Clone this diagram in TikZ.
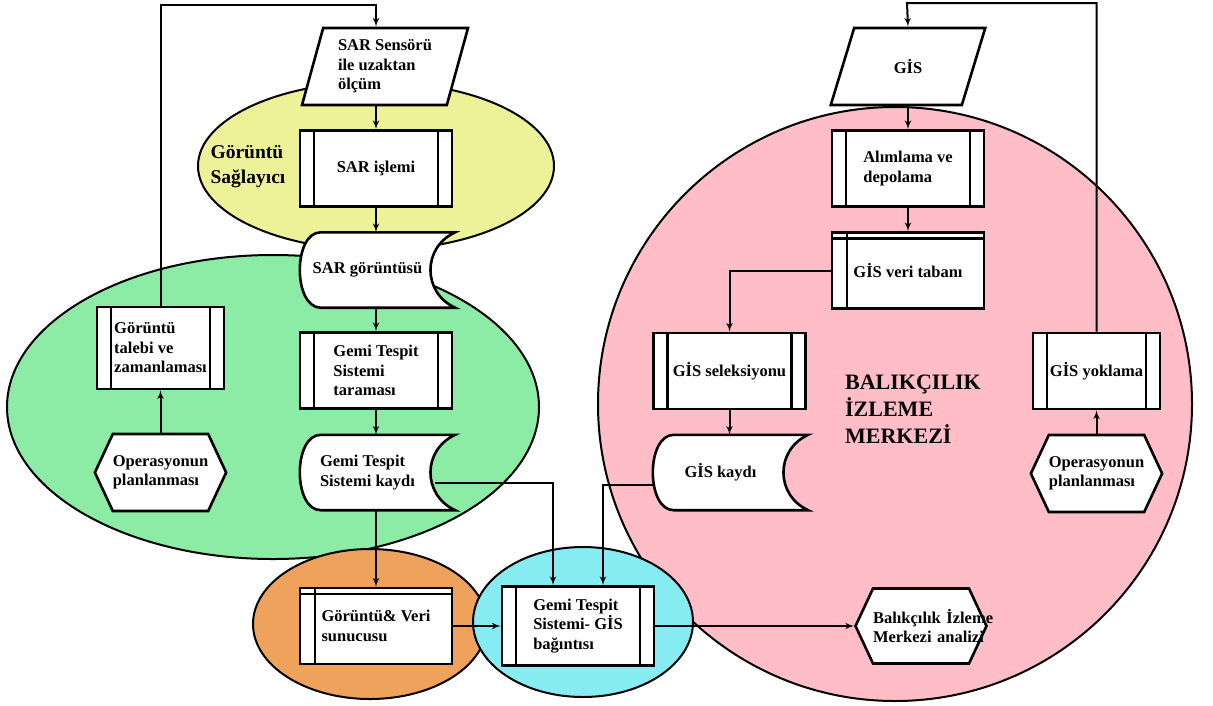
\documentclass[tikz,border=0pt]{standalone}
\usepackage{fontspec}
\setmainfont{Liberation Serif}
\usepackage{xcolor}
\usepackage{tikz}
\usetikzlibrary{shapes,arrows}

\pgfdeclarelayer{back}
\pgfdeclarelayer{shapes}
\pgfsetlayers{back,shapes,main}

\definecolor{zoneyellow}{RGB}{237,242,152}
\definecolor{zonegreen}{RGB}{140,235,165}
\definecolor{zoneorange}{RGB}{238,162,92}
\definecolor{zonecyan}{RGB}{134,236,242}
\definecolor{zonepink}{RGB}{255,189,200}

\newcommand{\boxfont}{\fontsize{16.5}{19.5}\selectfont\bfseries}

\tikzstyle{base} = [draw, line width=2.6pt, fill=white, font=\boxfont, align=left]
\tikzstyle{process} = [base, rectangle, minimum width=152, minimum height=76,
    path picture={\draw[line width=2.2pt]
      ([xshift=14pt]path picture bounding box.north west) -- ([xshift=14pt]path picture bounding box.south west)
      ([xshift=-14pt]path picture bounding box.north east) -- ([xshift=-14pt]path picture bounding box.south east);}]
\tikzstyle{storage} = [base, rectangle, minimum width=152, minimum height=76,
    path picture={\draw[line width=2.2pt]
      ([xshift=15pt]path picture bounding box.north west) -- ([xshift=15pt]path picture bounding box.south west)
      ([yshift=-6pt]path picture bounding box.north west) -- ([yshift=-6pt]path picture bounding box.north east);}]
\tikzstyle{stored} = [rectangle, minimum width=135, minimum height=75, inner sep=2pt, font=\boxfont, align=left]
\tikzstyle{prep} = [base, signal, signal to=west and east, signal pointer angle=130,
    inner xsep=0pt, minimum width=130, minimum height=77]
\tikzstyle{io} = [base, trapezium, trapezium stretches=true, minimum width=166, minimum height=77]
\tikzstyle{zone} = [draw, line width=2pt]
\tikzstyle{line} = [draw, line width=2pt, -latex']

% stored data outline, drawn under the node text
\newcommand{\storedshape}[1]{%
  \begin{pgfonlayer}{shapes}
    \draw[line width=2.6pt, fill=white] ([xshift=21pt]#1.north west) -- ([xshift=20pt]#1.north east)
      .. controls ([xshift=-13pt,yshift=-15pt]#1.north east) and ([xshift=-13pt,yshift=15pt]#1.south east) .. ([xshift=20pt]#1.south east)
      -- ([xshift=21pt]#1.south west)
      .. controls ([xshift=-7pt]#1.south west) and ([xshift=-7pt]#1.north west) .. cycle;
  \end{pgfonlayer}}

\begin{document}
\begin{tikzpicture}[x=1pt, y=-1pt, node distance=102pt]
    \useasboundingbox (0,0) rectangle (1213,705);

    % Zones
    \begin{pgfonlayer}{back}
      \draw[zone, fill=zonepink] (895,404) circle [radius=297pt];
      \draw[zone, fill=zonegreen] (273,407) ellipse [x radius=266pt, y radius=152pt];
      \draw[zone, fill=zoneyellow] (376,166) ellipse [x radius=178pt, y radius=84pt];
      \draw[zone, fill=zoneorange] (370,624) ellipse [x radius=117pt, y radius=75pt];
      \draw[zone, fill=zonecyan] (583,622) ellipse [x radius=110pt, y radius=75pt];
    \end{pgfonlayer}

    \node [font=\fontsize{19.5}{25}\selectfont\bfseries, align=left] (saglayici) at (248,167) {Görüntü\\Sağlayıcı};
    \node [font=\fontsize{22}{27}\selectfont\bfseries, align=left] (merkez) at (913,409) {BALIKÇILIK\\İZLEME\\MERKEZİ};

    % Place nodes
    \node [io, trapezium left angle=74, trapezium right angle=106] (sar) at (385,66.5) {SAR Sensörü\\ile uzaktan\\ölçüm};
    \node [process] (islem) at (376,168.5) {SAR işlemi};
    \node [stored] (sargor) at (367.5,270) {SAR görüntüsü};
    \node [process] (tarama) at (376,370.5) {Gemi Tespit\\Sistemi\\taraması};
    \node [stored] (kayit) at (367.5,472.5) {Gemi Tespit\\Sistemi kaydı};
    \node [process, minimum width=127, minimum height=82] (talep) at (160.5,348) {Görüntü\\talebi ve\\zamanlaması};
    \node [prep, below of=talep, node distance=124.5pt] (opL) {Operasyonun\\planlanması};
    \node [storage] (sunucu) at (376,626) {Görüntü\& Veri\\sunucusu};
    \node [process, minimum height=79] (bag) at (578,626) {Gemi Tespit\\Sistemi- GİS\\bağıntısı};
    \node [prep, minimum width=128, minimum height=75, text width=96pt] (analiz) at (921,626) {\mbox{Balıkçılık İzleme}\\\mbox{Merkezi analizi}};

    \node [io, minimum width=155, trapezium left angle=70, trapezium right angle=110] (gis) at (908,66.5) {GİS};
    \node [process, below of=gis] (alim) {Alımlama ve\\depolama};
    \node [storage, below of=alim] (veritab) {GİS veri tabanı};
    \node [process] (secim) at (729.5,371) {GİS seleksiyonu};
    \node [stored] (giskayit) at (720.5,472.5) {GİS kaydı};
    \node [process, minimum width=127] (yoklama) at (1096.5,371) {GİS yoklama};
    \node [prep, below of=yoklama, node distance=102.5pt] (opR) {Operasyonun\\planlanması};

    \storedshape{sargor}
    \storedshape{kayit}
    \storedshape{giskayit}

    \coordinate (topL) at (376,5);
    \coordinate (topR) at (907,3);

    % Draw edges
    \path [line] (talep.north) |- (topL) -- (sar.north -| islem.north);
    \path [line] (sar.south -| islem.north) -- (islem.north);
    \path [line] (islem.south) -- (islem.south |- sargor.north);
    \path [line] (islem.south |- sargor.south) -- (tarama.north);
    \path [line] (tarama.south) -- (tarama.south |- kayit.north);
    \path [line] (tarama.south |- kayit.south) -- (sunucu.north);
    \path [line] (opL.north -| talep.south) -- (talep.south);
    \path [line] ([yshift=-10pt]kayit.east) -| ([xshift=-25pt]bag.north);
    \path [line] ([yshift=-12pt]giskayit.west) -| ([xshift=25pt]bag.north);
    \path [line] (sunucu.east) -- (bag.west);
    \path [line] (bag.east) -- (analiz.west);

    \path [line] (yoklama.north) |- (topR) -- (gis.north -| alim.north);
    \path [line] (gis.south -| alim.north) -- (alim.north);
    \path [line] (alim.south) -- (veritab.north);
    \path [line] (veritab.west) -| (secim.north);
    \path [line] (secim.south) -- (secim.south |- giskayit.north);
    \path [line] (opR.north) -- (yoklama.south);
\end{tikzpicture}
\end{document}
